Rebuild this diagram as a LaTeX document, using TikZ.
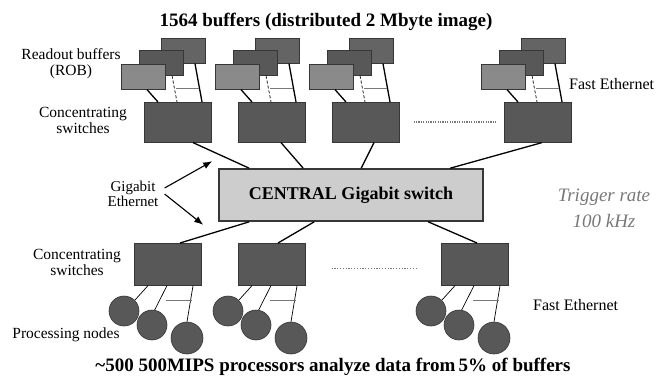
\documentclass[tikz,border=0pt]{standalone}
\usepackage{fontspec}
\setmainfont{Liberation Serif}
\usetikzlibrary{calc,arrows.meta}

\definecolor{darkbox}{RGB}{88,88,88}
\definecolor{midbox}{RGB}{100,100,100}
\definecolor{lightbox}{RGB}{138,138,138}
\definecolor{boxedge}{RGB}{55,55,55}
\definecolor{centralfill}{RGB}{205,205,205}
\definecolor{softgray}{RGB}{120,120,120}

\begin{document}
\begin{tikzpicture}[x=1pt,y=-1pt,
  rob/.style={draw=boxedge,line width=0.6pt,inner sep=0pt,anchor=north west,
              minimum width=44pt,minimum height=25pt},
  concsw/.style={draw=boxedge,fill=darkbox,line width=0.6pt,inner sep=0pt,
              anchor=north west,minimum width=67pt,minimum height=40pt},
  pnode/.style={circle,draw=boxedge,fill=darkbox,line width=0.6pt,inner sep=0pt,
              minimum size=30pt},
  link/.style={black,line width=1.3pt},
  thinlink/.style={black,line width=0.7pt},
  crosslink/.style={softgray,line width=0.5pt},
  lbl/.style={font=\fontsize{15.5}{16}\selectfont,align=center,inner sep=0pt},
  bigtxt/.style={font=\bfseries\fontsize{19}{22}\selectfont,inner sep=0pt},
  gbarrow/.style={black,line width=1.1pt,-{Latex[length=9pt,width=7pt]}}]

\useasboundingbox (0,0) rectangle (668,376);

% headline and footline
\node[bigtxt] (title) at (326,22) {1564 buffers (distributed 2 Mbyte image)};
\node[bigtxt] (foot) at (333,367) {\textasciitilde500 500MIPS processors analyze data from\,5\% of buffers};

% central switch
\node[draw=boxedge,fill=centralfill,line width=1.6pt,inner sep=0pt,
      minimum width=264pt,minimum height=52pt,
      font=\bfseries\fontsize{18}{20}\selectfont] (central) at (351,195)
      {CENTRAL Gigabit switch};

% upper groups: readout buffers feeding a concentrating switch
\foreach \i/\sx in {1/144, 2/238, 3/332, 4/504}{
  \node[rob,fill=midbox]    (rbc\i) at (\sx+17,38) {};
  \node[rob,fill=darkbox]   (rbb\i) at (\sx-5,50) {};
  \node[rob,fill=lightbox]  (rba\i) at (\sx-23,64) {};
  \node[concsw] (us\i) at (\sx,102) {};
  \draw[link] ([xshift=26pt]rba\i.south west) -- ([xshift=14pt]us\i.north west);
  \draw[thinlink,densely dashed] ([xshift=33pt]rbb\i.south west) -- ([xshift=33pt]us\i.north west);
  \draw[link] ([xshift=34pt]rbc\i.south west) -- ([xshift=58pt]us\i.north west);
  \draw[crosslink] ([xshift=32pt,yshift=14pt]us\i.north west) -- ([xshift=55pt,yshift=14pt]us\i.north west);
}
\draw[link] ([xshift=49pt]us1.south west) -- ([xshift=31pt]central.north west);
\draw[link] ([xshift=43pt]us2.south west) -- ([xshift=85pt]central.north west);
\draw[link] ([xshift=42pt]us3.south west) -- ([xshift=143pt]central.north west);
\draw[link] ([xshift=38pt]us4.south west) -- ([xshift=232pt]central.north west);

% gap between upper switches 3 and 4
\draw[softgray,line width=1.8pt,dash pattern=on 1.2pt off 1.2pt]
  ([xshift=14pt]us3.east) -- ([xshift=-7pt]us4.west);

% lower groups: concentrating switches feeding processing nodes
\foreach \i/\sx in {1/134, 2/238, 3/441}{
  \node[concsw,minimum height=42pt] (ls\i) at (\sx,243) {};
  \node[pnode] (pa\i) at (\sx-10,311) {};
  \node[pnode] (pb\i) at (\sx+18,325) {};
  \node[pnode,minimum size=32pt] (pc\i) at (\sx+53,338) {};
  \draw[thinlink] ([xshift=14pt]ls\i.south west) -- (pa\i.45);
  \draw[thinlink] ([xshift=33pt]ls\i.south west) -- (pb\i.80);
  \draw[thinlink] ([xshift=59pt]ls\i.south west) -- (pc\i.north);
  \draw[crosslink] ([xshift=32pt,yshift=-15pt]ls\i.south west) -- ([xshift=58pt,yshift=-15pt]ls\i.south west);
}
\draw[link] ([xshift=31pt]central.south west) -- ([xshift=46pt]ls1.north west);
\draw[link] ([xshift=96pt]central.south west) -- ([xshift=40pt]ls2.north west);
\draw[link] ([xshift=210pt]central.south west) -- ([xshift=36pt]ls3.north west);

% gap between lower switches 2 and 3
\draw[softgray,line width=1.4pt,dash pattern=on 1.2pt off 1.6pt]
  ([xshift=26pt,yshift=-4pt]ls2.east) -- ([xshift=-24pt,yshift=-4pt]ls3.west);

% side labels
\node[lbl] (roblbl) at (71,64) {Readout buffers\\(ROB)};
\node[lbl] (uswlbl) at (83,120) {Concentrating\\switches};
\node[lbl] (lswlbl) at (77,262) {Concentrating\\switches};
\node[lbl] (pnlbl) at (66,335) {Processing nodes};
\node[lbl,anchor=west,font=\fontsize{16}{17}\selectfont] (fe1) at (569,84) {Fast Ethernet};
\node[lbl,anchor=west,font=\fontsize{16}{17}\selectfont] (fe2) at (533,305) {Fast Ethernet};
\node[lbl,font=\fontsize{15}{15}\selectfont] (gbe) at (133,194) {Gigabit\\Ethernet};

% gigabit ethernet pointers
\draw[gbarrow] ([xshift=6pt,yshift=6pt]gbe.east) -- ([xshift=-6pt,yshift=7pt]central.north west);
\draw[gbarrow] ([xshift=6pt,yshift=0pt]gbe.east) -- ([xshift=-15pt,yshift=-3pt]central.south west);

% trigger rate
\node[softgray,font=\itshape\fontsize{19}{26}\selectfont,align=center,inner sep=0pt]
  (trig) at (604,208) {Trigger rate\\100 kHz};

\end{tikzpicture}
\end{document}
